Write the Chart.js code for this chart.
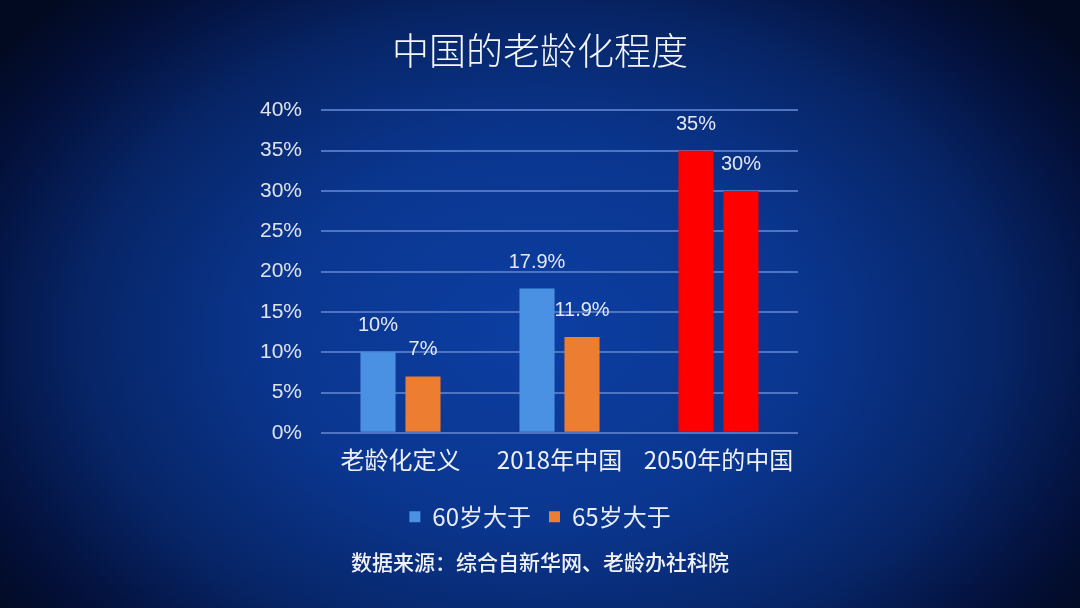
<!DOCTYPE html>
<html lang="zh">
<head>
<meta charset="utf-8">
<title>中国的老龄化程度</title>
<script src="https://cdn.jsdelivr.net/npm/chart.js@4"></script>
<style>
  html, body {
    margin: 0;
    padding: 0;
    width: 1080px;
    height: 608px;
    overflow: hidden;
  }
  body {
    background: radial-gradient(ellipse 62% 78% at 50% 55%, #0c3ea2 0%, #0a368f 40%, #072567 68%, #03103a 88%, #020a22 100%);
  }
  #wrap {
    position: relative;
    width: 1080px;
    height: 608px;
  }
</style>
</head>
<body>
<div id="wrap"><canvas id="chart"></canvas></div>
<script>
const categories = ['老龄化定义', '2018年中国', '2050年的中国'];
const seriesNames = ['60岁大于', '65岁大于'];
const over60 = [10, 17.9, 35];
const over65 = [7, 11.9, 30];
const yTicks = [0, 5, 10, 15, 20, 25, 30, 35, 40];

const titleText = '中国的老龄化程度';
const sourceText = '数据来源：综合自新华网、老龄办社科院';

const BLUE = '#4b91e3';
const ORANGE = '#ed7d31';
const RED = '#ff0000';

const CJK = "'Noto Sans CJK SC', 'Noto Sans', sans-serif";
const NUM = "'Liberation Sans', Arial, sans-serif";

// 2050 bars are highlighted in red
const colorsFor = (base) => categories.map((c, i) => (i === 2 ? RED : base));

const valueLabels = {
  id: 'valueLabels',
  afterDatasetsDraw(chart) {
    const { ctx } = chart;
    ctx.save();
    ctx.font = `20px ${NUM}`;
    ctx.fillStyle = '#e4e8f2';
    ctx.textAlign = 'center';
    ctx.textBaseline = 'alphabetic';
    chart.data.datasets.forEach((dataset, di) => {
      const meta = chart.getDatasetMeta(di);
      meta.data.forEach((bar, i) => {
        ctx.fillText(`${dataset.data[i]}%`, bar.x, bar.y - 21);
      });
    });
    ctx.restore();
  },
};

const createChart = () => new Chart(document.getElementById('chart'), {
  type: 'bar',
  data: {
    labels: categories,
    datasets: [
      {
        label: seriesNames[0],
        data: over60,
        backgroundColor: colorsFor(BLUE),
        categoryPercentage: 0.566,
        barPercentage: 0.78,
      },
      {
        label: seriesNames[1],
        data: over65,
        backgroundColor: colorsFor(ORANGE),
        categoryPercentage: 0.566,
        barPercentage: 0.78,
      },
    ],
  },
  options: {
    responsive: true,
    maintainAspectRatio: false,
    animation: false,
    layout: {
      padding: { left: 0, right: 0, top: 0, bottom: 33 },
    },
    scales: {
      x: {
        grid: { display: false, drawTicks: false },
        border: { display: false },
        ticks: {
          color: '#eef1f7',
          padding: 5,
          autoSkip: false,
          maxRotation: 0,
          minRotation: 0,
          font: { family: CJK, size: 24, lineHeight: '44px' },
        },
      },
      y: {
        min: 0,
        max: 40,
        afterBuildTicks: (axis) => {
          axis.ticks = yTicks.map((v) => ({ value: v }));
        },
        afterFit: (axis) => {
          axis.width = 321;
        },
        grid: { color: '#4f74c4', lineWidth: 2, drawTicks: false },
        border: { display: false },
        ticks: {
          color: '#dfe3ec',
          padding: 19,
          font: { family: NUM, size: 21 },
          callback: (v) => `${v}%`,
        },
      },
      // empty axis that only reserves the space right of the plot
      yRight: {
        position: 'right',
        afterFit: (axis) => {
          axis.width = 282;
        },
        grid: { display: false, drawTicks: false },
        border: { display: false },
        ticks: { display: false },
      },
    },
    plugins: {
      title: {
        display: true,
        text: titleText,
        color: '#f4f6fa',
        font: { family: CJK, size: 37, weight: '300', lineHeight: 1.2 },
        padding: { top: 29, bottom: 37 },
      },
      subtitle: {
        display: true,
        position: 'bottom',
        text: sourceText,
        color: '#f0f2f7',
        font: { family: CJK, size: 21, weight: '500', lineHeight: 1.2 },
        padding: { top: 11, bottom: 0 },
      },
      legend: {
        position: 'bottom',
        labels: {
          color: '#e8ecf4',
          boxWidth: 11,
          boxHeight: 11,
          padding: 18,
          font: { family: CJK, size: 24 },
        },
      },
      tooltip: { enabled: false },
    },
  },
  plugins: [valueLabels],
});

window.onload = () => {
  createChart();
};
</script>
</body>
</html>
